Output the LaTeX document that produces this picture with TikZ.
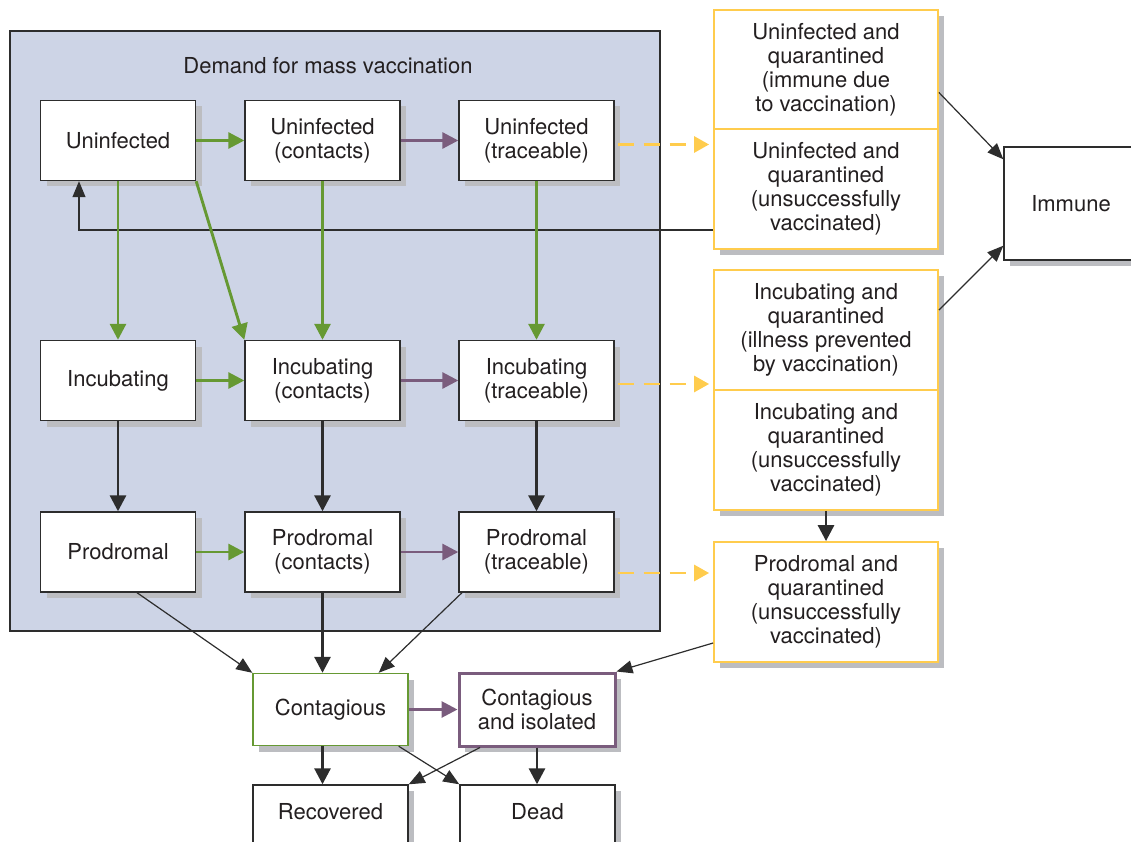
\documentclass[tikz,border=0pt]{standalone}
\usepackage{fontspec}
\setmainfont{TeX Gyre Heros}
\usepackage{xcolor}
\definecolor{panelblue}{RGB}{205,212,230}
\definecolor{flowgreen}{RGB}{102,153,51}
\definecolor{flowpurple}{RGB}{122,92,125}
\definecolor{quaryellow}{RGB}{255,204,77}
\definecolor{shadowgrey}{RGB}{188,189,193}
\definecolor{boxgrey}{RGB}{45,45,45}
\definecolor{textgrey}{RGB}{35,31,32}
\usepackage{tikz}
\usetikzlibrary{arrows.meta}
\usetikzlibrary{shadows}
\newcommand{\widthstate}{155pt}
\newcommand{\heightstate}{80pt}
\newcommand{\widthquar}{224pt}
\newcommand{\heightquar}{120pt}
\tikzset{
    common/.style={draw=boxgrey, fill=white, rectangle, line width=1.4pt, align=center, inner sep=0pt,
        text=textgrey, font=\fontsize{22pt}{24pt}\selectfont,
        drop shadow={shadow xshift=6pt, shadow yshift=-6pt, fill=shadowgrey, opacity=1}},
    state/.style={common, minimum width=\widthstate, minimum height=\heightstate},
    outcome/.style={state, minimum height=72pt},
    quar/.style={common, draw=quaryellow, line width=1.8pt, minimum width=\widthquar, minimum height=\heightquar},
    flow/.style={-{Triangle[length=16pt,width=16pt]}, line width=2.9pt, boxgrey},
    greenflow/.style={flow, flowgreen},
    purpleflow/.style={flow, flowpurple},
    thinflow/.style={-{Triangle[length=16pt,width=13pt]}, line width=1.2pt, boxgrey},
    quarflow/.style={-{Triangle[length=15pt,width=16pt]}, line width=2.9pt, quaryellow,
        dash pattern=on 16pt off 10pt, shorten <=3pt, shorten >=4pt}
}

\begin{document}
\begin{tikzpicture}[x=1pt,y=-1pt]
              \useasboundingbox (0,0) rectangle (1131,842);

              \draw[fill=panelblue, draw=boxgrey, line width=1.4pt] (10,31) rectangle (660,631);
              \node[text=textgrey, font=\fontsize{22pt}{24pt}\selectfont] (demand) at (328,66) {Demand for mass vaccination};

              \node[state] (u) at (118,140.5) {Uninfected};
              \node[state] (uc) at (322.5,140.5) {Uninfected\\(contacts)};
              \node[state] (ut) at (536.5,140.5) {Uninfected\\(traceable)};

              \node[state] (i) at (118,380.5) {Incubating};
              \node[state] (ic) at (322.5,380.5) {Incubating\\(contacts)};
              \node[state] (it) at (536.5,380.5) {Incubating\\(traceable)};

              \node[state] (p) at (118,552) {Prodromal};
              \node[state] (pc) at (322.5,552) {Prodromal\\(contacts)};
              \node[state] (pt) at (536.5,552) {Prodromal\\(traceable)};

              \node[quar, minimum height=119pt] (q1) at (826,69.5) {Uninfected and\\quarantined\\(immune due\\to vaccination)};
              \node[quar] (q2) at (826,189) {Uninfected and\\quarantined\\(unsuccessfully\\vaccinated)};
              \node[quar] (q3) at (826,330) {Incubating and\\quarantined\\(illness prevented\\by vaccination)};
              \node[quar] (q4) at (826,450) {Incubating and\\quarantined\\(unsuccessfully\\vaccinated)};
              \node[quar] (q5) at (826,602) {Prodromal and\\quarantined\\(unsuccessfully\\vaccinated)};

              \node[common, minimum width=134pt, minimum height=113pt] (imm) at (1071,203.5) {Immune};

              \node[outcome, draw=flowgreen] (cont) at (330.5,709.5) {Contagious};
              \node[outcome, draw=flowpurple, line width=3pt, minimum width=156pt, minimum height=73pt] (iso) at (537,709.5) {Contagious\\and isolated};
              \node[outcome, text depth=20pt] (rec) at (330.5,821) {Recovered};
              \node[outcome, text depth=20pt] (dead) at (537.5,821) {Dead};

              \draw[thinflow] ([yshift=-41pt]q2.west) -| ([xshift=-39pt]u.south);

              \draw[greenflow] (u.east) -- (uc.west);
              \draw[purpleflow] (uc.east) -- (ut.west);
              \draw[greenflow] (i.east) -- (ic.west);
              \draw[purpleflow] (ic.east) -- (it.west);
              \draw[greenflow] (p.east) -- (pc.west);
              \draw[purpleflow] (pc.east) -- (pt.west);

              \draw[greenflow] (u.south) -- (i.north);
              \draw[greenflow] (u.south east) -- (ic.north west);
              \draw[greenflow] (uc.south) -- (ic.north);
              \draw[greenflow] (ut.south) -- (it.north);

              \draw[flow] (i.south) -- (p.north);
              \draw[flow] (ic.south) -- (pc.north);
              \draw[flow] (it.south) -- (pt.north);

              \draw[quarflow] ([yshift=-4pt]ut.east) -- ([yshift=-4pt]ut.east -| q2.west);
              \draw[quarflow] ([yshift=-3.5pt]it.east) -- ([yshift=-3.5pt]it.east -| q3.west);
              \draw[quarflow] ([yshift=-21pt]pt.east) -- ([yshift=-21pt]pt.east -| q5.west);

              \draw[thinflow] ([yshift=-23pt]q1.east) -- ([yshift=-13pt]imm.north west);
              \draw[thinflow] ([yshift=20pt]q3.east) -- ([yshift=15pt]imm.south west);
              \draw[flow] (q4.south) -- (q5.north);

              \draw[thinflow] ([xshift=19pt]p.south) -- (cont.north west);
              \draw[flow] (pc.south) -- (pc.south |- cont.north);
              \draw[thinflow] ([xshift=-74.5pt]pt.south) -- ([xshift=-30pt]cont.north east);
              \draw[thinflow] ([yshift=-41pt]q5.west) -- (iso.north east);

              \draw[purpleflow] (cont.east) -- (cont.east -| iso.west);
              \draw[flow] (cont.south -| pc.south) -- (rec.north -| pc.south);
              \draw[flow] (iso.south) -- (iso.south |- dead.north);
              \draw[thinflow] ([xshift=-10pt]cont.south east) -- (dead.north west);
              \draw[thinflow] ([xshift=-57pt]iso.south) -- (rec.north east);
          \end{tikzpicture}
\end{document}
